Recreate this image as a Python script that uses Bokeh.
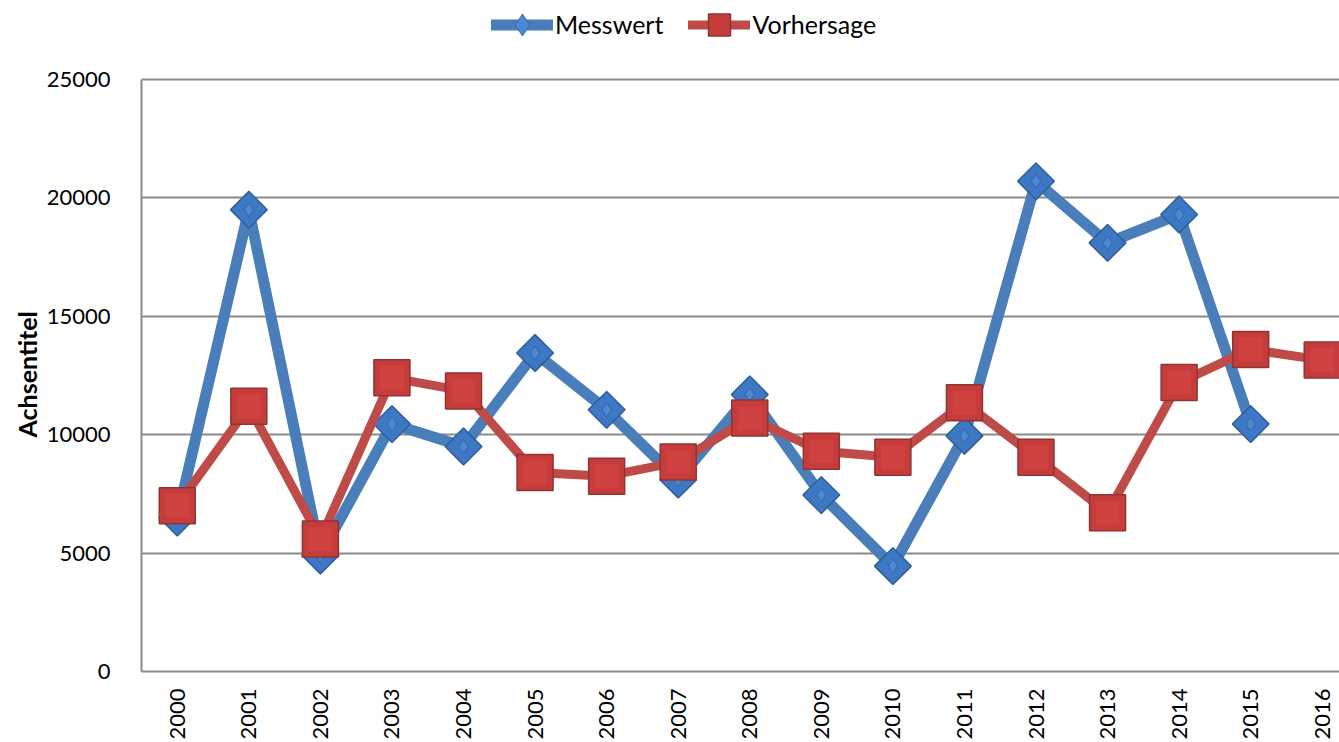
import numpy as np
from bokeh.plotting import figure
from bokeh.models import (Range1d, FixedTicker, Legend, LegendItem, ColumnDataSource, Title)
from bokeh.embed import file_html
from bokeh.resources import INLINE

years = list(range(2000, 2017))
messwert = [6500, 19500, 4900, 10450, 9500, 13450, 11050, 8100, 11700, 7450,
            4450, 9950, 20700, 18100, 19300, 10450]
vorhersage = [7000, 11200, 5600, 12400, 11850, 8400, 8250, 8850, 10700, 9300,
              9050, 11350, 9050, 6700, 12200, 13600, 13150]
y_ticks = [0, 5000, 10000, 15000, 20000, 25000]
y_title = "Achsentitel"
series_names = ["Messwert", "Vorhersage"]

FONT = "Lato"
GRID = "#8a8a8a"
FRAME_W = 1198
FRAME_H = 663
Y_TOP = 25000 * FRAME_H / 592  # headroom above the 25000 line for the legend
X_END = 1999.5 + FRAME_W / 71.56

p = figure(frame_width=FRAME_W, frame_height=FRAME_H, output_backend="svg",
           toolbar_location=None,
           x_range=Range1d(1999.5, X_END), y_range=Range1d(0, Y_TOP),
           min_border_left=141, min_border_right=0, min_border_top=8,
           min_border_bottom=0)
p.outline_line_color = None
p.background_fill_color = "white"
p.border_fill_color = "white"

# axes
p.xaxis.ticker = FixedTicker(ticks=years)
p.xaxis.major_label_overrides = {y: str(y) for y in years}
p.xaxis.major_label_orientation = np.pi / 2
p.yaxis.ticker = FixedTicker(ticks=y_ticks)
p.yaxis.major_label_overrides = {v: str(v) for v in y_ticks}
p.yaxis.bounds = (0, 25000)
for ax in (p.xaxis[0], p.yaxis[0]):
    ax.axis_line_color = GRID
    ax.axis_line_width = 2
    ax.major_tick_line_color = None
    ax.minor_tick_line_color = None
    ax.major_label_text_font = FONT
    ax.major_label_text_font_size = "22px"
    ax.major_label_text_color = "black"
p.xaxis.major_label_standoff = 11
p.yaxis.major_label_standoff = 25

ytitle = Title(text=y_title, align="left", offset=234, text_font=FONT,
               text_font_size="25px", text_font_style="bold", text_color="black",
               standoff=4)
p.add_layout(ytitle, "left")

p.xgrid.grid_line_color = None
p.ygrid.grid_line_color = GRID
p.ygrid.grid_line_width = 2

src_m = ColumnDataSource(dict(x=years[:len(messwert)], y=messwert))
src_v = ColumnDataSource(dict(x=years, y=vorhersage))

BLUE_FILL, BLUE_EDGE = "#3D78C4", "#2F5E98"
RED_FILL, RED_EDGE = "#C63C3A", "#8E3533"

# Messwert
lm = p.line("x", "y", source=src_m, line_color="#4A7EBB", line_width=11,
            line_join="round", line_cap="round")
sm = p.scatter("x", "y", source=src_m, marker="square", angle=np.pi / 4, size=26,
               fill_color=BLUE_FILL, line_color=BLUE_EDGE, line_width=1.5)
sm2 = p.scatter("x", "y", source=src_m, marker="diamond", size=14,
                fill_color="#4C88D4", line_color=BLUE_EDGE, line_width=0.8)

# Vorhersage
lv = p.line("x", "y", source=src_v, line_color="#BE4B48", line_width=9,
            line_join="round", line_cap="round")
sv = p.scatter("x", "y", source=src_v, marker="square", size=36,
               fill_color=RED_FILL, line_color=RED_EDGE, line_width=1.5)
sv2 = p.scatter("x", "y", source=src_v, marker="square", size=24,
                fill_color="#CF4240", line_color=None)

GH = 55
legend = Legend(items=[LegendItem(label=series_names[0], renderers=[lm, sm2]),
                       LegendItem(label=series_names[1], renderers=[lv, sv])],
                orientation="horizontal", location=(350, FRAME_H - 16 - GH / 2),
                label_text_font=FONT, label_text_font_size="25px",
                label_text_color="black",
                glyph_width=62, glyph_height=GH, label_standoff=2, spacing=25,
                padding=0, margin=0, border_line_color=None,
                background_fill_alpha=0)
p.add_layout(legend, "center")

open("out.html", "w").write(file_html(p, INLINE))
